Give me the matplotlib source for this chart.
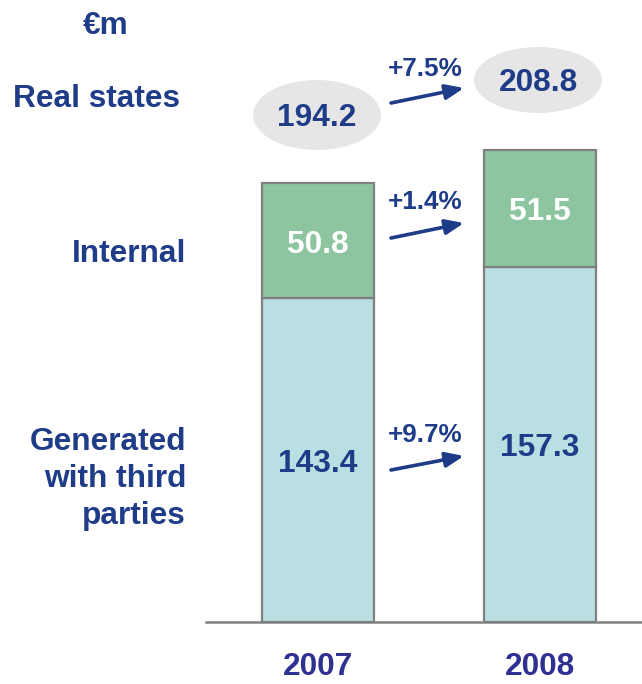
import matplotlib
matplotlib.use("Agg")
import matplotlib.pyplot as plt
from matplotlib.patches import Ellipse, FancyArrowPatch
from matplotlib.transforms import offset_copy

plt.rcParams['font.family'] = ['Liberation Sans', 'DejaVu Sans']

years = ["2007", "2008"]
third_parties = [143.4, 157.3]
internal = [50.8, 51.5]
totals = [194.2, 208.8]
growth = ["+9.7%", "+1.4%", "+7.5%"]
row_labels = ["Generated\nwith third\nparties", "Internal", "Real states"]
unit_label = "€m"

W, H = 642, 684
fig = plt.figure(figsize=(W / 100, H / 100), dpi=100)
ax = fig.add_axes([0, (H - 622) / H, 1, 622 / H])
ax.set_xlim(-318 / 222, (642 - 318) / 222)
ax.set_ylim(0, 622 / 2.26)
ax.axis('off')

navy = '#1F3C88'
year_col = '#2E3192'
green = '#8DC5A0'
lblue = '#BADFE2'
edge = '#808080'
FS = 22.8

x = [0, 1]
bw = 0.505
ax.bar(x, third_parties, width=bw, color=lblue, edgecolor=edge, linewidth=1.6, zorder=2)
ax.bar(x, internal, bottom=third_parties, width=bw, color=green, edgecolor=edge, linewidth=1.6, zorder=2)
ax.plot([(206 - 318) / 222, (642 - 318) / 222], [0, 0], color=edge, lw=1.8, zorder=3, clip_on=False)

tr = offset_copy(ax.transData, fig=fig, y=-4, units='dots')
for i in range(2):
    ax.text(x[i], third_parties[i] / 2, f"{third_parties[i]:.1f}", ha='center', va='center',
            color=navy, fontsize=FS, fontweight='bold', transform=tr)
    ax.text(x[i], third_parties[i] + internal[i] / 2, f"{internal[i]:.1f}", ha='center', va='center',
            color='white', fontsize=FS, fontweight='bold', transform=tr)

def px(xp, yp):
    return (xp / W, 1 - yp / H)

# ellipses with totals
ell_centers = [(317, 115), (538, 80)]
ell_h = [70, 66]
for i, (cx, cy) in enumerate(ell_centers):
    e = Ellipse(px(cx, cy), 128 / W, ell_h[i] / H, transform=fig.transFigure,
                facecolor='#E6E6E6', edgecolor='none', zorder=1)
    fig.patches.append(e)
    fig.text(*px(cx, cy + 3), f"{totals[i]:.1f}", ha='center', va='center',
             color=navy, fontsize=FS, fontweight='bold')

# growth arrows
arrow_rows = [(470, 456, 435), (238, 223, 202), (103, 88, 69)]
for g, (y0, y1, ty) in zip(growth, arrow_rows):
    a = FancyArrowPatch(px(391, y0), px(464, y1), transform=fig.transFigure,
                        arrowstyle='-|>,head_length=11,head_width=4.5', color=navy, lw=2.6,
                        mutation_scale=1, shrinkA=0, shrinkB=0)
    fig.patches.append(a)
    fig.text(*px(425, ty), g, ha='center', va='center', color=navy, fontsize=18.8, fontweight='bold')

# row labels
fig.text(*px(186, 479), row_labels[0], ha='right', va='center', color=navy,
         fontsize=FS, fontweight='bold', linespacing=1.3)
fig.text(*px(186, 254), row_labels[1], ha='right', va='center', color=navy, fontsize=FS, fontweight='bold')
fig.text(*px(180, 99), row_labels[2], ha='right', va='center', color=navy, fontsize=FS, fontweight='bold')
fig.text(*px(106, 26), unit_label, ha='center', va='center', color=navy, fontsize=FS, fontweight='bold')

# years
for i, yr in enumerate(years):
    xc = [318, 540][i]
    fig.text(*px(xc, 667), yr, ha='center', va='center', color=year_col, fontsize=FS, fontweight='bold')

fig.savefig("out.png", dpi=100)
